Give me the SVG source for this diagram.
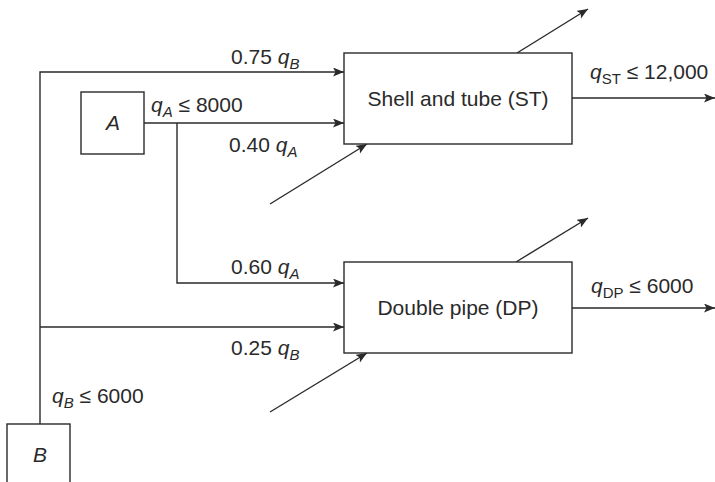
<svg xmlns="http://www.w3.org/2000/svg" width="715" height="482" viewBox="0 0 715 482">
<style>
  .box { fill: #fff; stroke: #2a2a2a; stroke-width: 1.4; }
  .ln { fill: none; stroke: #2a2a2a; stroke-width: 1.4; }
  .arr { marker-end: url(#ah); }
  text { font-family: "Liberation Sans", Arial, Helvetica, sans-serif; font-size: 21px; fill: #2a2a2a; }
  .it { font-style: italic; }
  .sub { font-size: 15px; }
</style>
<defs>
  <marker id="ah" markerUnits="userSpaceOnUse" markerWidth="12" markerHeight="10" refX="11" refY="4.5" orient="auto" viewBox="0 0 12 10">
    <path d="M0,0 L11,4.5 L0,9 L2.5,4.5 z" fill="#2a2a2a"/>
  </marker>
</defs>

<g id="connectors">
  <!-- B feed line -->
  <polyline class="ln arr" points="40,424 40,72 344,72"/>
  <line class="ln arr" x1="40" y1="327" x2="344" y2="327"/>
  <!-- A feed line -->
  <line class="ln arr" x1="144" y1="123" x2="344" y2="123"/>
  <polyline class="ln arr" points="177,123 177,283 344,283"/>
  <!-- ST streams -->
  <line class="ln arr" x1="270" y1="204" x2="367" y2="144"/>
  <line class="ln arr" x1="517" y1="53" x2="588" y2="9"/>
  <line class="ln arr" x1="572" y1="98" x2="715" y2="98"/>
  <!-- DP streams -->
  <line class="ln arr" x1="270" y1="412" x2="367" y2="353"/>
  <line class="ln arr" x1="516" y1="262" x2="588" y2="218"/>
  <line class="ln arr" x1="572" y1="308" x2="715" y2="308"/>
</g>

<g id="labels">
  <text x="231" y="64">0.75 <tspan class="it">q</tspan><tspan class="it sub" dy="5">B</tspan></text>
  <text x="151" y="112"><tspan class="it">q</tspan><tspan class="it sub" dy="5">A</tspan><tspan dy="-5"> ≤ 8000</tspan></text>
  <text x="229" y="152">0.40 <tspan class="it">q</tspan><tspan class="it sub" dy="5">A</tspan></text>
  <text x="231" y="274">0.60 <tspan class="it">q</tspan><tspan class="it sub" dy="5">A</tspan></text>
  <text x="231" y="355">0.25 <tspan class="it">q</tspan><tspan class="it sub" dy="5">B</tspan></text>
  <text x="52" y="403"><tspan class="it">q</tspan><tspan class="it sub" dy="5">B</tspan><tspan dy="-5"> ≤ 6000</tspan></text>
  <text x="590" y="79"><tspan class="it">q</tspan><tspan class="sub" dy="5">ST</tspan><tspan dy="-5"> ≤ 12,000</tspan></text>
  <text x="591" y="293"><tspan class="it">q</tspan><tspan class="sub" dy="5">DP</tspan><tspan dy="-5"> ≤ 6000</tspan></text>
</g>

<g id="node-A">
  <rect class="box" x="81" y="92" width="63" height="62"/>
  <text class="it" x="113" y="130" text-anchor="middle">A</text>
</g>
<g id="node-B">
  <rect class="box" x="7" y="424" width="63" height="70"/>
  <text class="it" x="40" y="462" text-anchor="middle">B</text>
</g>
<g id="node-ST">
  <rect class="box" x="344" y="53" width="228" height="91"/>
  <text x="458" y="106" text-anchor="middle">Shell and tube (ST)</text>
</g>
<g id="node-DP">
  <rect class="box" x="344" y="262" width="228" height="91"/>
  <text x="458" y="315" text-anchor="middle">Double pipe (DP)</text>
</g>
</svg>
